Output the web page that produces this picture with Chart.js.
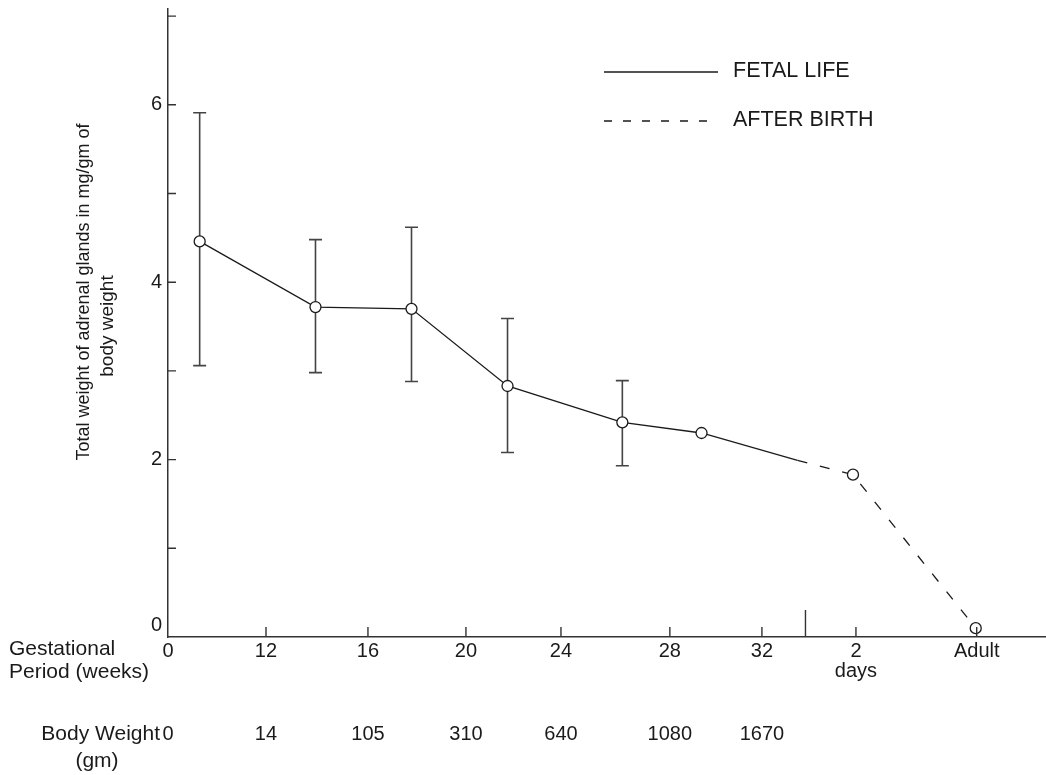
<!DOCTYPE html>
<html>
<head>
<meta charset="utf-8">
<title>Adrenal gland weight</title>
<script src="https://cdn.jsdelivr.net/npm/chart.js@4.4.1/dist/chart.umd.min.js"></script>
<style>
    html, body { margin: 0; padding: 0; background: #ffffff; }
    #wrap { width: 1046px; height: 775px; position: relative; }
</style>
</head>
<body>
<div id="wrap"><canvas id="adrenalChart"></canvas></div>
<script>
/* ===============================
   DATA
=============================== */

// x runs in "tick slots": one slot per 4-week mark on the original drawing
const tickPos = [0, 0.99, 2.02, 3.01, 3.97, 5.07, 6.0, 6.95, 8.17];
const tickLabels = ["0", "12", "16", "20", "24", "28", "32", ["2", "days"], "Adult"];
const bodyWeights = ["0", "14", "105", "310", "640", "1080", "1670"];
const birthPos = 6.44;

const fetalX = [0.32, 1.49, 2.46, 3.43, 4.59, 5.39, 6.36];
const fetalY = [4.46, 3.72, 3.70, 2.83, 2.42, 2.30, 1.99];
const fetalHigh = [5.91, 4.48, 4.62, 3.59, 2.89, null, null];
const fetalLow = [3.06, 2.98, 2.88, 2.08, 1.93, null, null];

const afterX = [6.36, 6.92, 8.16];
const afterY = [1.99, 1.83, 0.10];

const yTitle = ["Total weight of adrenal glands in mg/gm of", "body weight"];

/* ===============================
   STYLE
=============================== */

const FONT = '"Liberation Sans", Arial, Helvetica, sans-serif';
const INK = "#1a1a1a";
const AXIS = "#333333";

/* ===============================
   EXTRA DRAWING
=============================== */

const decorPlugin = {

    id: "decor",

    beforeDatasetsDraw(chart) {

        const { ctx, scales: { x, y } } = chart;

        ctx.save();
        ctx.strokeStyle = "#444444";
        ctx.lineWidth = 1.6;

        fetalX.forEach((v, i) => {

            if (fetalHigh[i] == null) return;

            const px = x.getPixelForValue(v);
            const top = y.getPixelForValue(fetalHigh[i]);
            const bot = y.getPixelForValue(fetalLow[i]);

            ctx.beginPath();
            ctx.moveTo(px, top); ctx.lineTo(px, bot);
            ctx.moveTo(px - 6.5, top); ctx.lineTo(px + 6.5, top);
            ctx.moveTo(px - 6.5, bot); ctx.lineTo(px + 6.5, bot);
            ctx.stroke();

        });

        ctx.restore();

    },

    afterDraw(chart) {

        const { ctx, chartArea: area, scales: { x, y } } = chart;

        ctx.save();

        // inward tick marks
        ctx.strokeStyle = AXIS;
        ctx.lineWidth = 1.4;
        ctx.beginPath();

        tickPos.slice(1).forEach(v => {
            const px = x.getPixelForValue(v);
            ctx.moveTo(px, area.bottom);
            ctx.lineTo(px, area.bottom - 10);
        });

        const bx = x.getPixelForValue(birthPos);
        ctx.moveTo(bx, area.bottom);
        ctx.lineTo(bx, area.bottom - 27);

        for (let v = 1; v <= 7; v++) {
            const py = y.getPixelForValue(v);
            ctx.moveTo(area.left, py);
            ctx.lineTo(area.left + 8, py);
        }

        ctx.stroke();

        // y zero label sits a little above the axis
        ctx.fillStyle = INK;
        ctx.font = "20px " + FONT;
        ctx.textAlign = "right";
        ctx.textBaseline = "middle";
        ctx.fillText("0", area.left - 6, y.getPixelForValue(0) - 12);

        bodyWeights.forEach((w, i) => {
            ctx.textAlign = "center";
            ctx.fillText(w, x.getPixelForValue(tickPos[i]), 734);
        });

        // row captions
        ctx.font = "21px " + FONT;
        ctx.textAlign = "left";
        ctx.fillText("Gestational", 9, 649);
        ctx.fillText("Period (weeks)", 9, 672);

        const x0 = x.getPixelForValue(tickPos[0]);
        ctx.textAlign = "right";
        ctx.fillText("Body Weight", x0 - 8, 734);
        ctx.textAlign = "center";
        ctx.fillText("(gm)", 97, 761);

        // y axis title
        ctx.font = "18px " + FONT;
        ctx.save();
        ctx.translate(84, 292);
        ctx.rotate(-Math.PI / 2);
        ctx.fillText(yTitle[0], 0, 0);
        ctx.restore();

        ctx.font = "19px " + FONT;
        ctx.save();
        ctx.translate(108, 326);
        ctx.rotate(-Math.PI / 2);
        ctx.fillText(yTitle[1], 0, 0);
        ctx.restore();

        // legend
        const rows = [72, 121];
        const dashes = [[], [8, 11]];

        chart.data.datasets.forEach((ds, i) => {

            ctx.strokeStyle = ds.borderColor;
            ctx.lineWidth = ds.borderWidth;
            ctx.setLineDash(dashes[i]);
            ctx.beginPath();
            ctx.moveTo(604, rows[i]);
            ctx.lineTo(718, rows[i]);
            ctx.stroke();

            ctx.setLineDash([]);
            ctx.font = "21.5px " + FONT;
            ctx.textAlign = "left";
            ctx.fillStyle = INK;
            ctx.fillText(ds.label, 733, rows[i] - 1);

        });

        ctx.restore();

    }

};

/* ===============================
   CHART
=============================== */

const canvas = document.getElementById("adrenalChart");

new Chart(canvas, {

    type: "line",

    data: {

        datasets: [

            {
                label: "FETAL LIFE",
                data: fetalX.map((v, i) => ({ x: v, y: fetalY[i] })),
                borderColor: INK,
                borderWidth: 1.3,
                tension: 0,
                pointRadius: ctx => ctx.dataIndex === fetalX.length - 1 ? 0 : 5.5,
                pointBackgroundColor: "#ffffff",
                pointBorderColor: INK,
                pointBorderWidth: 1.3
            },

            {
                label: "AFTER BIRTH",
                data: afterX.map((v, i) => ({ x: v, y: afterY[i] })),
                borderColor: INK,
                borderWidth: 1.3,
                borderDash: [10, 13],
                tension: 0,
                pointRadius: ctx => ctx.dataIndex === 0 ? 0 : 5.5,
                pointBackgroundColor: "#ffffff",
                pointBorderColor: INK,
                pointBorderWidth: 1.3
            }

        ]

    },

    options: {

        responsive: true,
        maintainAspectRatio: false,
        animation: false,

        layout: {
            autoPadding: false,
            padding: { top: 9, right: 0, bottom: 0, left: 0 }
        },

        plugins: {
            legend: { display: false },
            tooltip: { enabled: false }
        },

        scales: {

            x: {
                type: "linear",
                min: 0,
                max: 8.87,
                grid: { display: false, drawTicks: false },
                border: { color: AXIS, width: 1.5 },
                afterBuildTicks: s => { s.ticks = tickPos.map(v => ({ value: v })); },
                afterFit: s => {
                    s.height = 138;
                    s.paddingLeft = 0;
                    s.paddingRight = 0;
                },
                ticks: {
                    autoSkip: false,
                    maxRotation: 0,
                    padding: 4,
                    color: INK,
                    font: { family: FONT, size: 20, lineHeight: 1.0 },
                    callback: (v, i) => tickLabels[i]
                }
            },

            y: {
                min: 0,
                max: 7.08,
                grid: { display: false, drawTicks: false },
                border: { color: AXIS, width: 1.5 },
                afterFit: s => {
                    s.width = 168;
                    s.paddingTop = 0;
                    s.paddingBottom = 0;
                },
                ticks: {
                    stepSize: 1,
                    includeBounds: false,
                    padding: 6,
                    color: INK,
                    font: { family: FONT, size: 20 },
                    callback: v => (v === 2 || v === 4 || v === 6) ? String(v) : ""
                }
            }

        }

    },

    plugins: [decorPlugin]

});
</script>
</body>
</html>
